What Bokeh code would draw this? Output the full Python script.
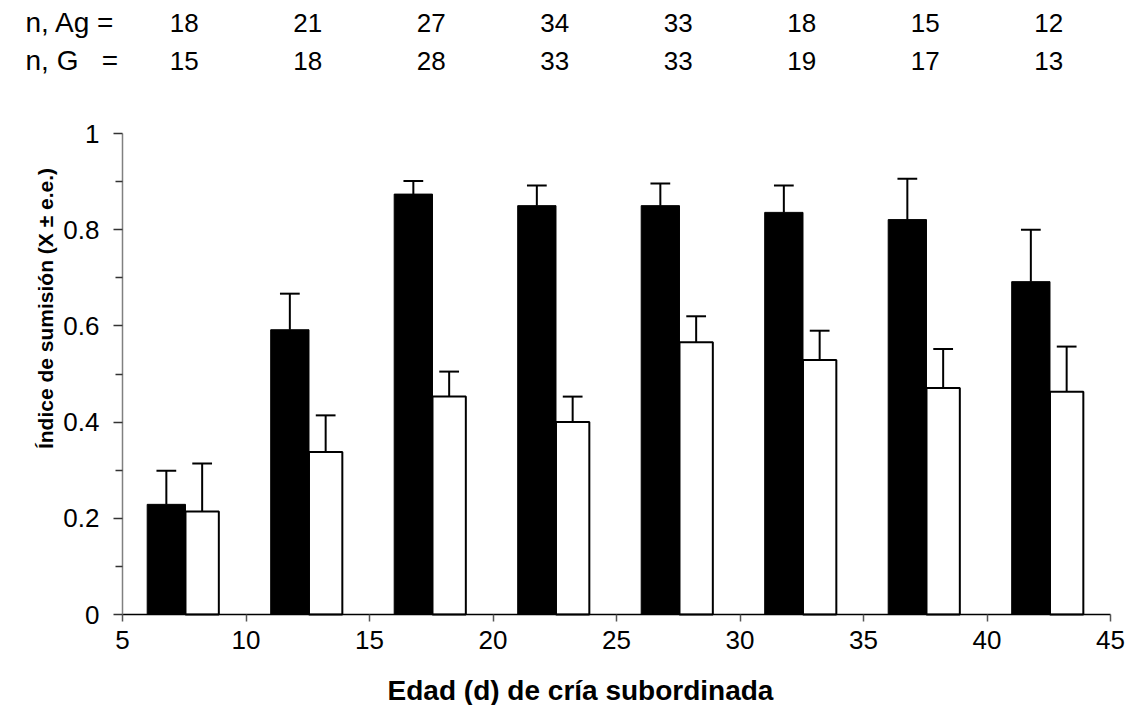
import math

from bokeh.plotting import figure
from bokeh.models import ColumnDataSource, FixedTicker, LinearAxis, Range1d
from bokeh.core.properties import value
from bokeh.embed import file_html
from bokeh.resources import INLINE

# Age of the subordinate chick (centre of each pair of bars, days)
edad = [7.5, 12.5, 17.5, 22.5, 27.5, 32.5, 37.5, 42.5]

# Submission index, mean and standard error
ag_media = [0.229, 0.592, 0.874, 0.850, 0.850, 0.836, 0.821, 0.692]
ag_ee = [0.070, 0.075, 0.027, 0.042, 0.046, 0.056, 0.085, 0.108]
g_media = [0.214, 0.338, 0.453, 0.400, 0.566, 0.529, 0.471, 0.463]
g_ee = [0.100, 0.076, 0.052, 0.053, 0.054, 0.061, 0.081, 0.094]

# Sample sizes
n_ag = [18, 21, 27, 34, 33, 18, 15, 12]
n_g = [15, 18, 28, 33, 33, 19, 17, 13]

x_ticks = [5, 10, 15, 20, 25, 30, 35, 40, 45]
y_ticks = [0, 0.2, 0.4, 0.6, 0.8, 1]
y_tick_labels = ["0", "0.2", "0.4", "0.6", "0.8", "1"]
y_minor = [0.1, 0.3, 0.5, 0.7, 0.9]

FONT = "Liberation Sans"
W, H = 1131, 705

# Pixel placement of the plotting area: x 5..45 spans 122..1110, y 0..1 spans 614..133
AX_LEFT, AX_RIGHT = 122.0, 1110.0
AX_BOTTOM, AX_TOP = 614.0, 133.0
X0, X1 = 5, 45
PX_PER_X = (AX_RIGHT - AX_LEFT) / (X1 - X0)
PX_PER_Y = AX_BOTTOM - AX_TOP


def x_from_px(px):
    return X0 + (px - AX_LEFT) / PX_PER_X


def y_from_px(py):
    return (AX_BOTTOM - py) / PX_PER_Y


# The frame fills the whole canvas; axes are pinned at x=5 and y=0
p = figure(width=W, height=H,
           x_range=Range1d(x_from_px(0), x_from_px(W)),
           y_range=Range1d(y_from_px(H), y_from_px(0)),
           x_axis_location=None, y_axis_location=None,
           output_backend="svg", toolbar_location=None,
           min_border=0)
p.grid.visible = False
p.outline_line_color = None
p.background_fill_color = "white"
p.border_fill_color = "white"

blk_l = [e - 1.5 for e in edad]
blk_r = [e + 0.05 for e in edad]
wht_l = [e + 0.05 for e in edad]
wht_r = [e + 1.4 for e in edad]

src = ColumnDataSource(dict(
    blk_l=blk_l, blk_r=blk_r, wht_l=wht_l, wht_r=wht_r,
    ag=ag_media, g=g_media,
    ag_top=[m + s for m, s in zip(ag_media, ag_ee)],
    g_top=[m + s for m, s in zip(g_media, g_ee)],
    ag_x=[(a + b) / 2 for a, b in zip(blk_l, blk_r)],
    g_x=[(a + b) / 2 for a, b in zip(wht_l, wht_r)],
))

p.quad(left="blk_l", right="blk_r", bottom=0, top="ag", source=src,
       fill_color="black", line_color="black", line_width=1)
p.quad(left="wht_l", right="wht_r", bottom=0, top="g", source=src,
       fill_color="white", line_color="black", line_width=2)

# Upper standard-error bars with caps
cap = 0.4
for xcol, lo, hi in (("ag_x", "ag", "ag_top"), ("g_x", "g", "g_top")):
    p.segment(x0=xcol, y0=lo, x1=xcol, y1=hi, source=src,
              line_color="black", line_width=2)
    xs = src.data[xcol]
    tops = src.data[hi]
    p.segment(x0=[x - cap for x in xs], y0=tops, x1=[x + cap for x in xs], y1=tops,
              line_color="black", line_width=2)

# X axis at y = 0
xa = LinearAxis(fixed_location=0, bounds=(X0, X1))
xa.ticker = FixedTicker(ticks=x_ticks)
xa.axis_line_color = "black"
xa.axis_line_width = 1.5
xa.major_tick_out = 7
xa.major_tick_in = 0
xa.minor_tick_out = 0
xa.minor_tick_in = 0
xa.major_tick_line_color = "#555555"
xa.major_tick_line_width = 1.5
xa.major_label_text_font = FONT
xa.major_label_text_font_size = "26px"
xa.major_label_text_color = "black"
xa.major_label_standoff = 9
p.add_layout(xa, "below")

# Y axis at x = 5
ya = LinearAxis(fixed_location=X0, bounds=(0, 1))
ya.ticker = FixedTicker(ticks=y_ticks, minor_ticks=y_minor)
ya.major_label_overrides = dict(zip(y_ticks, y_tick_labels))
ya.axis_line_color = "#808080"
ya.axis_line_width = 1.5
ya.major_tick_out = 9
ya.major_tick_in = 0
ya.minor_tick_out = 7
ya.minor_tick_in = 0
ya.major_tick_line_color = "#333333"
ya.minor_tick_line_color = "#333333"
ya.major_tick_line_width = 1.5
ya.minor_tick_line_width = 1.5
ya.major_label_text_font = FONT
ya.major_label_text_font_size = "26px"
ya.major_label_text_color = "black"
ya.major_label_standoff = 14
p.add_layout(ya, "left")

# Axis titles
p.text(x=[x_from_px(580)], y=[y_from_px(690)], text=["Edad (d) de cría subordinada"],
       text_font=value(FONT), text_font_size="28px", text_font_style="bold",
       text_color="black", text_align="center", text_baseline="middle")
p.text(x=[x_from_px(45)], y=[y_from_px(308)], text=["Índice de sumisión (X ± e.e.)"],
       angle=math.pi / 2, text_font=value(FONT), text_font_size="21px",
       text_font_style="bold", text_color="black", text_align="center",
       text_baseline="middle")

# Sample-size rows
row1_y = y_from_px(22)
row2_y = y_from_px(60)
nsrc = ColumnDataSource(dict(x=edad, y1=[row1_y] * len(edad), y2=[row2_y] * len(edad),
                             t1=[str(v) for v in n_ag], t2=[str(v) for v in n_g]))
for ycol, tcol in (("y1", "t1"), ("y2", "t2")):
    p.text(x="x", y=ycol, text=tcol, source=nsrc, text_font=value(FONT),
           text_font_size="26px", text_align="center", text_baseline="middle",
           text_color="black")

hx = x_from_px(25)
p.text(x=[hx, hx], y=[row1_y, row2_y], text=["n, Ag =", "n, G\u00a0\u00a0\u00a0="],
       text_font=value(FONT), text_font_size="28px", text_align="left",
       text_baseline="middle", text_color="black")

open("out.html", "w").write(file_html(p, INLINE))
